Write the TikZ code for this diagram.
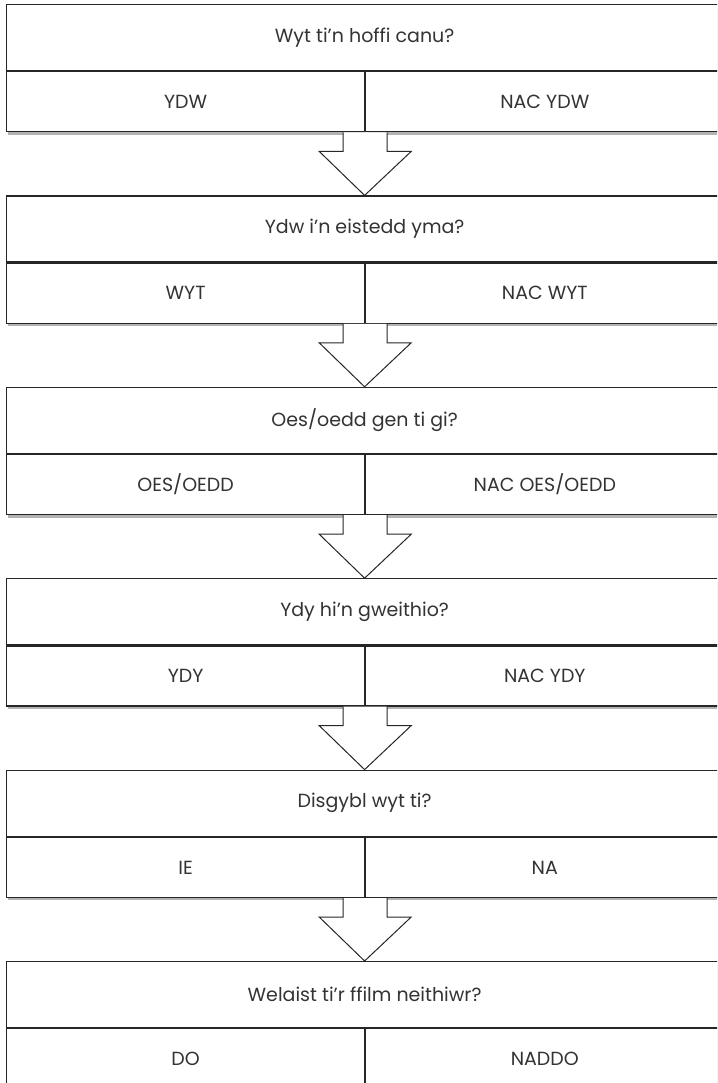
\documentclass[tikz,border=0pt]{standalone}
\usepackage{fontspec}
\setmainfont{Poppins}
\usetikzlibrary{shadows,calc}

\tikzset{
	cwestiwn/.style={draw=black!85, line width=1.2pt, fill=white, anchor=north west,
		minimum width=716pt, minimum height=66pt, inner sep=0pt, text=black!80,
		drop shadow={shadow xshift=1.5pt, shadow yshift=-3pt, opacity=0.6}},
	ateb/.style={cwestiwn, minimum width=358pt, minimum height=60pt},
	saeth/.style={draw=black!85, line width=1pt, fill=white, line join=miter}
}

% saeth fawr o'r atebion i'r cwestiwn nesaf
\newcommand{\saethlawr}[2]{%
	\path[saeth] let \p1=(#1.south east), \p2=(#2.north) in
		(\x1-22pt,\y1) -- (\x1-22pt,\y1-19pt) -- (\x1-46pt,\y1-19pt) -- (\x2,\y2)
		-- (\x1+46pt,\y1-19pt) -- (\x1+22pt,\y1-19pt) -- (\x1+22pt,\y1);
}

\begin{document}
\begin{tikzpicture}[x=1pt,y=-1pt,font=\fontsize{19}{22}\selectfont]
	\useasboundingbox (0,0) rectangle (717,1083);
	\clip (0,0) rectangle (717,1083);

	% Cwestiwn 1
	\node[cwestiwn] (cw1) at (6,4) {Wyt ti'n hoffi canu?};
	\node[ateb] (ie1) at (cw1.south west) {YDW};
	\node[ateb] (na1) at (ie1.north east) {NAC YDW};

	% Cwestiwn 2
	\node[cwestiwn] (cw2) at (6,195.4) {Ydw i'n eistedd yma?};
	\node[ateb] (ie2) at (cw2.south west) {WYT};
	\node[ateb] (na2) at (ie2.north east) {NAC WYT};

	% Cwestiwn 3
	\node[cwestiwn] (cw3) at (6,386.8) {Oes/oedd gen ti gi?};
	\node[ateb] (ie3) at (cw3.south west) {OES/OEDD};
	\node[ateb] (na3) at (ie3.north east) {NAC OES/OEDD};

	% Cwestiwn 4
	\node[cwestiwn] (cw4) at (6,578.2) {Ydy hi'n gweithio?};
	\node[ateb] (ie4) at (cw4.south west) {YDY};
	\node[ateb] (na4) at (ie4.north east) {NAC YDY};

	% Cwestiwn 5
	\node[cwestiwn] (cw5) at (6,769.6) {Disgybl wyt ti?};
	\node[ateb] (ie5) at (cw5.south west) {IE};
	\node[ateb] (na5) at (ie5.north east) {NA};

	% Cwestiwn 6
	\node[cwestiwn] (cw6) at (6,961) {Welaist ti'r ffilm neithiwr?};
	\node[ateb] (ie6) at (cw6.south west) {DO};
	\node[ateb] (na6) at (ie6.north east) {NADDO};

	% Saethau
	\saethlawr{ie1}{cw2}
	\saethlawr{ie2}{cw3}
	\saethlawr{ie3}{cw4}
	\saethlawr{ie4}{cw5}
	\saethlawr{ie5}{cw6}
\end{tikzpicture}
\end{document}
